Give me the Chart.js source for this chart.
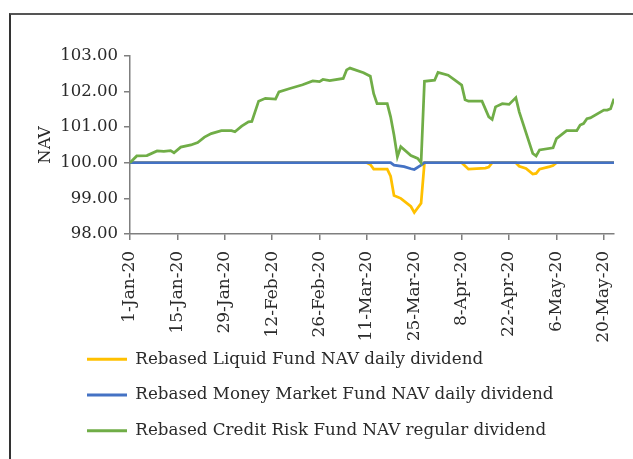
<!DOCTYPE html>
<html><head><meta charset="utf-8">
<script src="https://cdn.jsdelivr.net/npm/chart.js@4/dist/chart.umd.min.js"></script>
<style>
html,body{margin:0;padding:0;background:#fff;width:633px;height:459px;overflow:hidden}
#frame{position:absolute;left:9px;top:13px;width:640px;height:470px;border-top:2px solid #555;border-left:2px solid #333;}
#wrap{position:absolute;left:0;top:0;width:633px;height:459px}
</style></head><body>
<div id="frame"></div>
<div id="wrap"><canvas id="c" width="633" height="459"></canvas></div>
<script>
// Days counted from 1-Jan-2020
const tickLabels = ["1-Jan-20","15-Jan-20","29-Jan-20","12-Feb-20","26-Feb-20","11-Mar-20","25-Mar-20","8-Apr-20","22-Apr-20","6-May-20","20-May-20"];
const seriesNames = ["Rebased Liquid Fund NAV daily dividend","Rebased Money Market Fund NAV daily dividend","Rebased Credit Risk Fund NAV regular dividend"];

const liquidDays = [0,70,71,72,76,77,78,80,83,84,86,87,98,100,105,106,107,114,115,117,119,120,121,124,125,126,143];
const liquidNav  = [100,100,99.95,99.82,99.82,99.62,99.08,99.00,98.77,98.60,98.86,100,100,99.82,99.85,99.88,100,100,99.90,99.84,99.68,99.70,99.82,99.89,99.92,100,100];

const moneyDays = [0,77,78,81,83,84,86,87,143];
const moneyNav  = [100,100,99.93,99.89,99.83,99.81,99.93,100,100];

const creditDays = [0,2,5,8,10,12,13,15,18,20,22,24,27,30,31,33,35,36,38,40,43,44,47,51,54,56,57,59,63,64,65,69,71,72,73,76,77,78,79,80,83,85,86,87,90,91,94,96,98,99,100,104,106,107,108,110,112,114,115,119,120,121,125,126,129,132,133,134,135,136,140,141,142,143];
const creditNav  = [100.00,100.19,100.20,100.33,100.32,100.34,100.28,100.44,100.50,100.57,100.72,100.82,100.90,100.90,100.87,101.03,101.15,101.16,101.73,101.81,101.79,101.99,102.08,102.19,102.30,102.28,102.34,102.31,102.37,102.61,102.66,102.53,102.43,101.94,101.66,101.66,101.29,100.78,100.17,100.45,100.20,100.12,100.00,102.29,102.32,102.54,102.46,102.32,102.18,101.77,101.73,101.73,101.29,101.22,101.57,101.66,101.64,101.83,101.43,100.26,100.19,100.36,100.42,100.68,100.90,100.90,101.06,101.10,101.24,101.26,101.48,101.48,101.52,101.80];

const yTicks = [98,99,100,101,102,103];

const pts = (d, v) => d.map((x, i) => ({x, y: v[i]}));
const FAM = "'DejaVu Serif', serif";
const AXIS = '#7f7f7f';
const TXT = '#2a2a2a';
const L = 36;

const legendShift = {
  id: 'legendShift',
  afterLayout(chart) {
    const lg = chart.legend;
    if (!lg) return;
    const p = lg.options.labels.padding;
    const dx = 87 - (lg.left + p);
    lg.left += dx; lg.right += dx;
    const dy = 332 - lg.top;
    lg.top += dy; lg.bottom += dy;
  }
};

new Chart(document.getElementById('c'), {
  type: 'line',
  data: {
    datasets: [
      {label: seriesNames[0], data: pts(liquidDays, liquidNav), borderColor: '#FFC000', backgroundColor: '#FFC000', borderWidth: 2.75, pointRadius: 0, tension: 0, order: 2},
      {label: seriesNames[1], data: pts(moneyDays, moneyNav), borderColor: '#4472C4', backgroundColor: '#4472C4', borderWidth: 2.75, pointRadius: 0, tension: 0, order: 1},
      {label: seriesNames[2], data: pts(creditDays, creditNav), borderColor: '#70AD47', backgroundColor: '#70AD47', borderWidth: 2.75, pointRadius: 0, tension: 0, order: 0}
    ]
  },
  options: {
    responsive: false,
    animation: false,
    devicePixelRatio: 1,
    layout: {padding: {left: L, top: 56, right: 19, bottom: 0}},
    plugins: {
      tooltip: {enabled: false},
      legend: {
        position: 'bottom',
        align: 'start',
        labels: {
          font: {family: FAM, size: 16.7}, color: TXT, boxWidth: 40, boxHeight: 3, padding: 19,
          sort: (a, b) => a.datasetIndex - b.datasetIndex,
          generateLabels(chart) {
            const items = Chart.defaults.plugins.legend.labels.generateLabels(chart);
            items.forEach(it => { it.lineWidth = 0; });
            return items;
          }
        }
      }
    },
    scales: {
      x: {
        type: 'linear', min: 0, max: 143,
        afterBuildTicks(s) { s.ticks = tickLabels.map((_, i) => ({value: i * 14})); },
        ticks: {stepSize: 14, autoSkip: false, maxRotation: 90, minRotation: 90, padding: 11, color: TXT, font: {family: FAM, size: 17},
          callback: v => tickLabels[Math.round(v / 14)]},
        grid: {drawOnChartArea: false, tickLength: 6, color: AXIS, lineWidth: 1.5},
        border: {color: AXIS, width: 1.5},
        afterFit(s) { s.height = 108; s.paddingLeft = 0; s.paddingRight = 0; }
      },
      y: {
        min: 98, max: 103,
        afterBuildTicks(s) { s.ticks = yTicks.map(v => ({value: v})); },
        ticks: {padding: 6, color: TXT, font: {family: FAM, size: 16.5}, callback: v => Number(v).toFixed(2)},
        grid: {drawOnChartArea: false, tickLength: 6, color: AXIS, lineWidth: 1.5},
        border: {color: AXIS, width: 1.5},
        title: {display: true, text: 'NAV', color: TXT, font: {family: FAM, size: 16.5}, padding: 0},
        afterFit(s) { s.width = 130 - L; }
      }
    }
  },
  plugins: [legendShift]
});
</script>
</body></html>
